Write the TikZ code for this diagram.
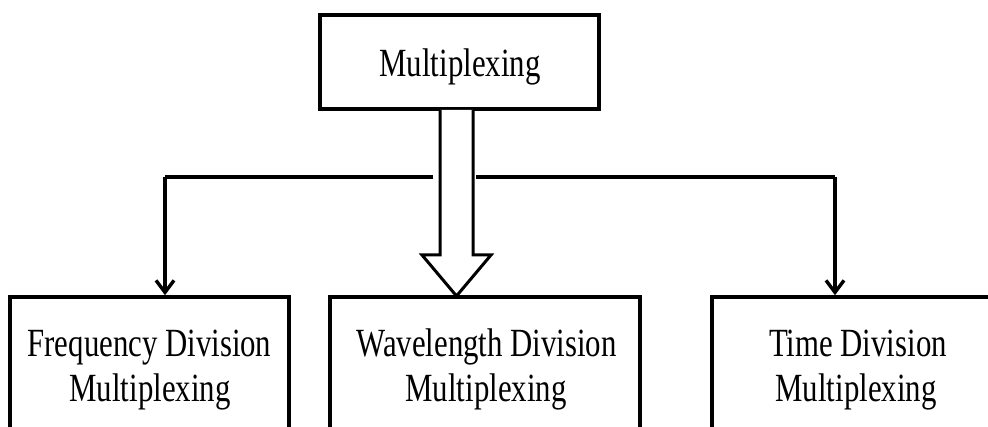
\documentclass[tikz,border=0pt]{standalone}
\usepackage{fontspec}
\setmainfont{Liberation Serif}[FakeStretch=0.77]
\usetikzlibrary{arrows.meta,calc}
\begin{document}
\begin{tikzpicture}[x=1pt,y=-1pt,
  box/.style={draw=black,line width=3.6pt,rectangle,inner sep=0pt},
  lbl/.style={anchor=base,inner sep=0pt,font=\fontsize{40}{48}\selectfont},
  conn/.style={line width=3.4pt,-{Straight Barb[length=12pt,width=18pt,line width=3.4pt]}},
  plain/.style={line width=3.4pt}]
\useasboundingbox (0,0) rectangle (988,427);
\clip (0,0) rectangle (988,427);
% boxes
\node[box,minimum width=279pt,minimum height=94pt] (top) at (459.5,62) {};
\node[box,minimum width=279pt,minimum height=160pt] (fdm) at (149.5,377) {};
\node[box,minimum width=310pt,minimum height=160pt] (wdm) at (485,377) {};
\node[box,minimum width=290pt,minimum height=160pt] (tdm) at (857,377) {};
% texts
\node[lbl] (ttop) at (460,77) {Multiplexing};
\node[lbl] (tf1) at (149.5,357) {Frequency Division};
\node[lbl] (tf2) at (150,357+45) {Multiplexing};
\node[lbl] (tw1) at (486.5,357) {Wavelength Division};
\node[lbl] (tw2) at (486,357+45) {Multiplexing};
\node[lbl] (tt1) at (858,357) {Time Division};
\node[lbl] (tt2) at (856,357+45) {Multiplexing};
% connectors
\coordinate (hl) at (165,177);
\coordinate (hlg) at (433,177);
\coordinate (hrg) at (476,177);
\coordinate (hr) at (835,177);
\draw[plain] (hlg) -- (hl);
\draw[conn] (hl) -- (hl |- fdm.north);
\draw[plain] (hrg) -- (hr);
\draw[conn] (hr) -- (hr |- tdm.north);
% hollow block arrow
\coordinate (s1) at (440,110);
\coordinate (s2) at (440,255);
\coordinate (w1) at (422,255);
\coordinate (tip) at (456.5,296);
\coordinate (w2) at (491,255);
\coordinate (s3) at (473,255);
\coordinate (s4) at (473,110);
\draw[line width=3pt,line join=miter,fill=white]
  (s1) -- (s2) -- (w1) -- (tip) -- (w2) -- (s3) -- (s4);
\end{tikzpicture}
\end{document}
